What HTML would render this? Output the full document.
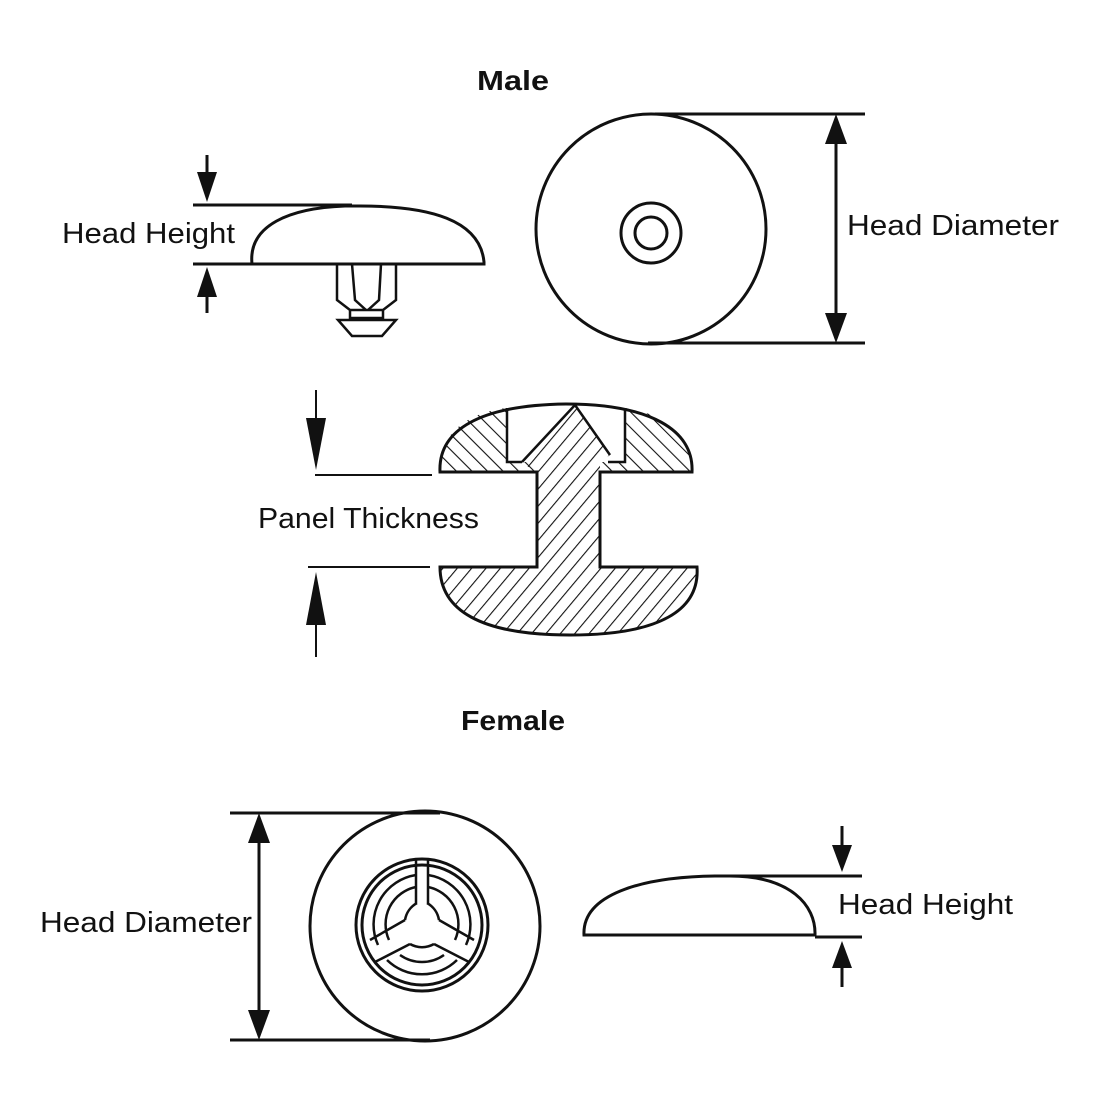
<!DOCTYPE html>
<html><head><meta charset="utf-8"><style>
html,body{margin:0;padding:0;background:#fff;}
svg{display:block;}
text{font-family:"Liberation Sans",sans-serif;fill:#111;}
</style></head><body>
<svg width="1100" height="1100" viewBox="0 0 1100 1100" xmlns="http://www.w3.org/2000/svg">
<defs>
<pattern id="h1" width="11" height="11" patternUnits="userSpaceOnUse" patternTransform="rotate(40)">
<line x1="0" y1="0" x2="0" y2="11" stroke="#111" stroke-width="2.2"/></pattern>
<pattern id="h2" width="11" height="11" patternUnits="userSpaceOnUse" patternTransform="rotate(-45)">
<line x1="0" y1="0" x2="0" y2="11" stroke="#111" stroke-width="2.2"/></pattern>
</defs>
<g stroke="#111" stroke-width="3" fill="none">
<!-- Male side -->
<line x1="193" y1="205" x2="352" y2="205"/>
<line x1="193" y1="264" x2="252" y2="264"/>
<path d="M252 264 C248 225 290 208 345 206 L360 206 C430 206 480 220 484 262 L484 264 L252 264" fill="#fff"/>
<path d="M337 264 L337 300 L350 310 L383 310 L396 300 L396 264 M352 264 L355 300 L366 310 M381 264 L379 300 L368 310 M350 310 L350 318 L383 318 L383 310 M338 320 L396 320 L382 336 L352 336 Z" stroke-width="2.5"/>
<!-- Male circle -->
<circle cx="651" cy="229" r="115"/>
<circle cx="651" cy="233" r="30"/>
<circle cx="651" cy="233" r="16"/>
<line x1="655" y1="114" x2="865" y2="114"/>
<line x1="648" y1="343" x2="865" y2="343"/>
<line x1="836" y1="140" x2="836" y2="318"/>
<line x1="207" y1="155" x2="207" y2="180"/>
<line x1="207" y1="290" x2="207" y2="313"/>
<line x1="316" y1="390" x2="316" y2="430" stroke-width="2"/>
<line x1="316" y1="615" x2="316" y2="657" stroke-width="2"/>
<line x1="315" y1="475" x2="432" y2="475" stroke-width="2"/>
<line x1="308" y1="567" x2="430" y2="567" stroke-width="2"/>
<!-- Cross section -->
<path d="M440 472 C438 432 470 412 507 408 L507 462 L537 462 L537 472 Z" fill="url(#h2)" stroke="none"/>
<path d="M625 408 C665 414 694 435 692 472 L600 472 L600 462 L625 462 Z" fill="url(#h2)" stroke="none"/>
<path d="M575 405 L610 455 L600 462 L600 567 L697 567 C700 610 660 635 570 635 C480 635 440 610 440 567 L537 567 L537 472 L520 462 Z" fill="url(#h1)" stroke="none"/>
<path d="M440 472 C438 430 480 405 566 404 C650 404 694 430 692 472 L600 472 L600 567 L697 567 C700 610 660 635 570 635 C480 635 440 610 440 567 L537 567 L537 472 Z"/>
<path d="M507 408 L507 462 L522 462 M625 408 L625 462 L608 462 M575 405 L610 455 M575 405 L522 462" stroke-width="2.5"/>
<!-- Female circle -->
<circle cx="425" cy="926" r="115"/>
<circle cx="422" cy="925" r="66"/>
<circle cx="422" cy="925" r="60"/>
<path d="M416 875 A50 50 0 0 0 378 945 M428 875 A50 50 0 0 1 466 945 M387 960 A50 50 0 0 0 457 960" stroke-width="2.5"/>
<path d="M416 887 A38 38 0 0 0 389 940 M428 887 A38 38 0 0 1 455 940 M400 955 A38 38 0 0 0 444 955" stroke-width="2.5"/>
<path d="M405 920 A24 24 0 0 1 417 903 M427 903 A24 24 0 0 1 439 920 M434 944 A24 24 0 0 1 410 944" stroke-width="2.5"/>
<path d="M416 860 L416 903 M428 860 L428 903 M405 920 L370 940 M410 944 L375 962 M439 920 L474 940 M434 944 L469 962" stroke-width="2.5"/>
<line x1="230" y1="813" x2="440" y2="813"/>
<line x1="230" y1="1040" x2="430" y2="1040"/>
<line x1="259" y1="838" x2="259" y2="1015"/>
<!-- Female side -->
<path d="M584 935 C582 895 640 877 715 876 L730 876 C790 876 816 905 815 935 Z" fill="#fff"/>
<line x1="720" y1="876" x2="862" y2="876"/>
<line x1="815" y1="937" x2="862" y2="937"/>
<line x1="842" y1="826" x2="842" y2="850"/>
<line x1="842" y1="962" x2="842" y2="987"/>
</g>
<g fill="#111">
<polygon points="197,172 217,172 207,202"/>
<polygon points="197,297 217,297 207,267"/>
<polygon points="825,144 847,144 836,114"/>
<polygon points="825,313 847,313 836,343"/>
<polygon points="306,418 326,418 316,470"/>
<polygon points="306,625 326,625 316,572"/>
<polygon points="248,843 270,843 259,813"/>
<polygon points="248,1010 270,1010 259,1040"/>
<polygon points="832,845 852,845 842,872"/>
<polygon points="832,968 852,968 842,941"/>
</g>
<text x="477" y="90" font-size="28" font-weight="bold" textLength="72" lengthAdjust="spacingAndGlyphs">Male</text>
<text x="461" y="730" font-size="28" font-weight="bold" textLength="104" lengthAdjust="spacingAndGlyphs">Female</text>
<text x="62" y="243" font-size="29" textLength="173" lengthAdjust="spacingAndGlyphs">Head Height</text>
<text x="847" y="235" font-size="29" textLength="212" lengthAdjust="spacingAndGlyphs">Head Diameter</text>
<text x="258" y="528" font-size="29" textLength="221" lengthAdjust="spacingAndGlyphs">Panel Thickness</text>
<text x="40" y="932" font-size="29" textLength="212" lengthAdjust="spacingAndGlyphs">Head Diameter</text>
<text x="838" y="914" font-size="29" textLength="175" lengthAdjust="spacingAndGlyphs">Head Height</text>
</svg>
</body></html>
